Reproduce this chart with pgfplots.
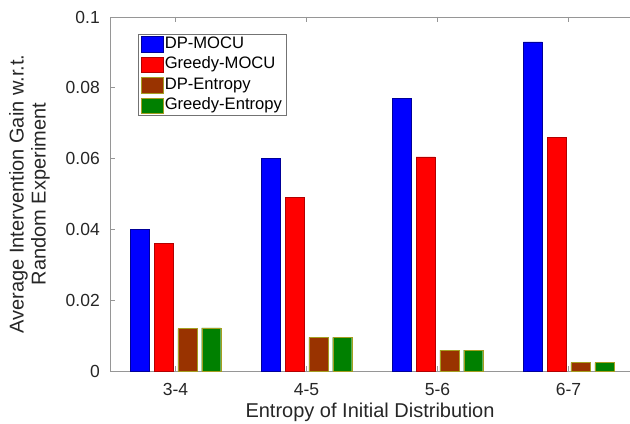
\documentclass[border=0pt]{standalone}
\usepackage{fontspec}
\setmainfont{Liberation Sans}
\usepackage{pgfplots}
\pgfplotsset{compat=1.18}

\definecolor{mblue}{RGB}{0,0,255}
\definecolor{mred}{RGB}{255,0,0}
\definecolor{mbrown}{RGB}{153,51,0}
\definecolor{mgreen}{RGB}{0,128,0}
\definecolor{axgray}{RGB}{150,150,150}

\begin{document}
\begin{tikzpicture}
\begin{axis}[
    scale only axis,
    width=520pt, height=354pt,
    ybar=4.8pt, bar width=19pt,
    xmin=-0.5, xmax=3.469,
    ymin=0, ymax=0.1,
    axis x line*=box, axis y line*=left,
    axis line style={axgray, line width=0.9pt},
    tick style={axgray, line width=0.8pt},
    major tick length=5pt, tick align=inside,
    xtick={0,1,2,3},
    xticklabels={3-4,4-5,5-6,6-7},
    ytick={0,0.02,0.04,0.06,0.08,0.1},
    yticklabels={0,0.02,0.04,0.06,0.08,0.1},
    ticklabel style={font=\fontsize{17.5}{20}\selectfont, text=black!85},
    xticklabel style={inner sep=0pt, yshift=-12pt},
    yticklabel style={inner sep=0pt, xshift=-10pt},
    xlabel={Entropy of Initial Distribution},
    xlabel style={at={(axis description cs:0.5,-0.09)}, anchor=north, inner sep=0pt,
        font=\fontsize{20}{22}\selectfont, text=black!85},
    ylabel={Average Intervention Gain w.r.t.\\Random Experiment},
    ylabel style={at={(axis description cs:-0.1154,0.5)}, anchor=south, inner sep=0pt,
        align=center, font=\fontsize{20}{22}\selectfont, text=black!85},
    legend cell align=left,
    legend image code/.code={\draw[#1, line width=0.4pt] (0pt,-7.8pt) rectangle (22pt,7.8pt);},
    legend style={at={(axis description cs:0.054,0.952)}, anchor=north west,
        draw=black!55, line width=0.6pt, inner xsep=2.5pt, inner ysep=2pt,
        font=\fontsize{16.6}{18}\selectfont, row sep=4.5pt,
        nodes={inner xsep=1.5pt, inner ysep=0pt, text height=12pt, text depth=4pt}},
]
\addplot[fill=mblue, draw=mblue!60!black, line width=0.35pt] coordinates {(0,0.040) (1,0.060) (2,0.077) (3,0.093)};
\addplot[fill=mred, draw=mred!70!black, line width=0.35pt] coordinates {(0,0.036) (1,0.049) (2,0.0605) (3,0.066)};
\addplot[fill=mbrown, draw=olive!80, line width=0.35pt] coordinates {(0,0.0120) (1,0.0095) (2,0.0059) (3,0.0024)};
\addplot[fill=mgreen, draw=olive!80, line width=0.35pt] coordinates {(0,0.0122) (1,0.0095) (2,0.0059) (3,0.0024)};
\legend{DP-MOCU, Greedy-MOCU, DP-Entropy, Greedy-Entropy}
\end{axis}
\pgfresetboundingbox
\useasboundingbox ([xshift=-110pt,yshift=-52pt]current axis.south west) rectangle ([yshift=17pt]current axis.north east);
\end{tikzpicture}
\end{document}
